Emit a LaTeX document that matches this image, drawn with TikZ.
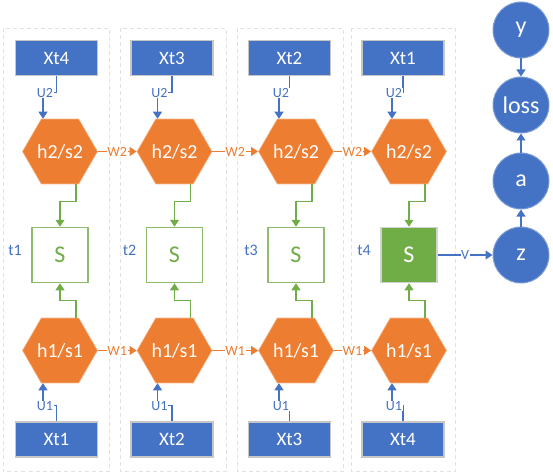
\documentclass[tikz,border=0pt]{standalone}
\usepackage{fontspec}
\setmainfont{Carlito}
\usetikzlibrary{shapes.geometric,arrows.meta,calc}
\definecolor{oblue}{HTML}{4472C4}
\definecolor{oorange}{HTML}{ED7D31}
\definecolor{ogreen}{HTML}{70AD47}
\definecolor{panelgray}{HTML}{E2E2E2}
\begin{document}
\begin{tikzpicture}[x=1pt,y=-1pt,
  panel/.style={draw=panelgray,line width=0.8pt,dash pattern=on 4pt off 3pt},
  xbox/.style={draw=gray!45,line width=1.2pt,fill=oblue,text=white,minimum width=82pt,minimum height=35pt,inner sep=0pt,font=\fontsize{19}{21}\selectfont},
  hexa/.style={regular polygon,regular polygon sides=6,minimum size=65pt,inner sep=0pt,fill=oorange,draw=oorange!55!white,line width=0.6pt,text=white,font=\fontsize{20}{22}\selectfont},
  sbox/.style={draw=ogreen!80,line width=1.5pt,fill=white,text=ogreen,minimum width=56pt,minimum height=55pt,inner sep=0pt,font=\fontsize{24}{26}\selectfont},
  sboxf/.style={sbox,fill=ogreen,draw=gray!35,text=white},
  cnode/.style={circle,fill=oblue,draw=oblue!70!white,line width=1pt,minimum size=56pt,inner sep=0pt,text=white,font=\fontsize{24}{26}\selectfont},
  tip/.style={-{Triangle[length=7pt,width=9pt]}},
  barrow/.style={draw=oblue,line width=1.1pt,tip},
  garrow/.style={draw=ogreen,line width=1.1pt,tip},
  oarrow/.style={draw=oorange,line width=1.1pt,tip},
  lbl/.style={fill=white,inner sep=0.5pt,font=\fontsize{14}{15}\selectfont},
  tlbl/.style={text=oblue,inner sep=0pt,font=\fontsize{16}{17}\selectfont}
]
\useasboundingbox (0,0) rectangle (553,473);
% panels
\draw[panel] (3,28) rectangle (109,471.5);
\draw[panel] (120,28) rectangle (226,471.5);
\draw[panel] (237,28) rectangle (343,471.5);
\draw[panel] (351,28) rectangle (455,471.5);
% columns
\foreach \i/\hx/\xx/\xt in {1/60/56.5/4, 2/174.5/172/3, 3/296/289.5/2, 4/409/403/1}{
  \node[xbox] (xa\i) at (\xx,58.3) {Xt\xt};
  \node[hexa] (ha\i) at (\hx,151.5) {h2/s2};
  \ifnum\i=4
    \node[sboxf] (s\i) at (\hx,255) {S};
  \else
    \node[sbox] (s\i) at (\hx,255) {S};
  \fi
  \node[hexa] (hb\i) at (\hx,350.5) {h1/s1};
  \node[xbox] (xb\i) at (\xx,439.5) {Xt\i};
  \node[tlbl] (t\i) at (\hx-45,250) {t\i};
  \coordinate (ua\i) at ($(ha\i.north)+(-17,0)$);
  \coordinate (ub\i) at ($(hb\i.south)+(-17,0)$);
  \coordinate (ga\i) at ($(ha\i.south)+(16,0)$);
  \coordinate (gb\i) at ($(hb\i.north)+(16,0)$);
  \draw[barrow] (xa\i.south) -- ++(0,16) -| (ua\i);
  \node[lbl,text=oblue] (u2l\i) at (\hx-15,93) {U2};
  \draw[barrow] (xb\i.north) -- ++(0,-16) -| (ub\i);
  \node[lbl,text=oblue] (u1l\i) at (\hx-15,406) {U1};
  \draw[garrow] (ga\i) -- ++(0,17) -| (s\i.north);
  \draw[garrow] (gb\i) -- ++(0,-17) -| (s\i.south);
}
% recurrent connections
\foreach \i/\j in {1/2,2/3,3/4}{
  \draw[oarrow] (ha\i.east) -- (ha\j.west) node[midway,lbl,text=oorange] (w2l\i) {W2};
  \draw[oarrow] (hb\i.east) -- (hb\j.west) node[midway,lbl,text=oorange] (w1l\i) {W1};
}
% output chain
\node[cnode] (y) at (521,30) {y};
\node[cnode] (loss) at (521,105) {loss};
\node[cnode] (a) at (521,181) {a};
\node[cnode] (z) at (521,255) {z};
\draw[barrow] (s4.east) -- (z.west) node[midway,lbl,text=oblue] (vl) {V};
\draw[barrow] (z.north) -- (a.south);
\draw[barrow] (a.north) -- (loss.south);
\draw[barrow] (y.south) -- (loss.north);
\end{tikzpicture}
\end{document}
